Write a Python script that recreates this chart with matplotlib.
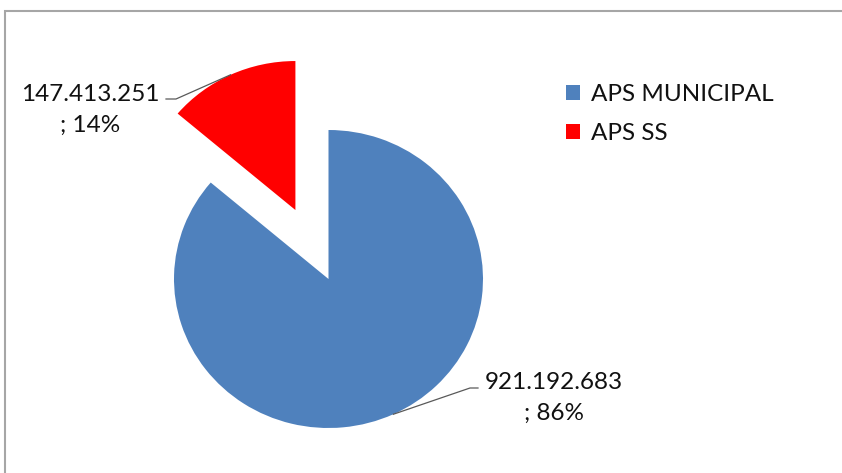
import numpy as np
import matplotlib
matplotlib.use('Agg')
import matplotlib.pyplot as plt
from matplotlib.patches import Rectangle

# data
labels = ['APS MUNICIPAL', 'APS SS']
values = [921192683, 147413251]
colors = ['#4F81BD', '#FF0000']
explode_frac = [0.0, 0.51]

plt.rcParams['font.family'] = ['Lato', 'DejaVu Sans']

W, H = 842, 473
# the original pie is a little wider than tall
k = 154.5 / 149.0

fig = plt.figure(figsize=(W / 100.0, H / 100.0), dpi=100)
ax = fig.add_axes([0, 0, 1, 1])

def yy(ypix):
    # pixel row (from top) -> data y
    return (H - ypix) * k

# grey frame round the chart area
fig.patches.append(Rectangle((5.0 / W, -0.1), 1.2, (H - 11.0) / H + 0.1,
                             transform=fig.transFigure, fill=False,
                             edgecolor='#A6A6A6', linewidth=1.5))

cx, cy, R = 328.5, yy(279), 154.5
# explode is in data units in matplotlib, so scale by the radius
wedges, _ = ax.pie(values, colors=colors, explode=[e * R for e in explode_frac],
                   startangle=90, counterclock=False, radius=R,
                   center=(cx, cy), frame=True)
ax.set_aspect('auto')
ax.set_xlim(0, W)
ax.set_ylim(0, H * k)
ax.axis('off')

def fmt(v):
    return '{:,}'.format(v).replace(',', '.')

total = float(sum(values))
pct = [int(round(100 * v / total)) for v in values]

def arc_point(w):
    mid = np.deg2rad(0.5 * (w.theta1 + w.theta2))
    x0, y0 = w.center
    return x0 + w.r * np.cos(mid), y0 + w.r * np.sin(mid)

tcolor = '#111111'
fs = 17.5

# label for APS SS
px, py = arc_point(wedges[1])
ax.plot([166, 176, px], [yy(99), yy(99), py], color='#595959', lw=0.9)
ax.text(90, yy(110), fmt(values[1]) + '\n; %d%%' % pct[1], ha='center',
        va='center', fontsize=fs, color=tcolor, linespacing=1.55)

# label for APS MUNICIPAL
px, py = arc_point(wedges[0])
ax.plot([px, 470, 478], [py, yy(388), yy(388)], color='#595959', lw=0.9)
ax.text(554, yy(398), fmt(values[0]) + '\n; %d%%' % pct[0], ha='center',
        va='center', fontsize=fs, color=tcolor, linespacing=1.55)

leg = ax.legend(wedges, labels, loc='upper left',
                bbox_to_anchor=(544.0 / W, 1 - 62.0 / H),
                bbox_transform=fig.transFigure, frameon=False,
                fontsize=fs, handlelength=0.6, handleheight=0.6,
                handletextpad=0.45, labelspacing=0.75)
for t in leg.get_texts():
    t.set_color(tcolor)

fig.savefig('out.png', dpi=100)
